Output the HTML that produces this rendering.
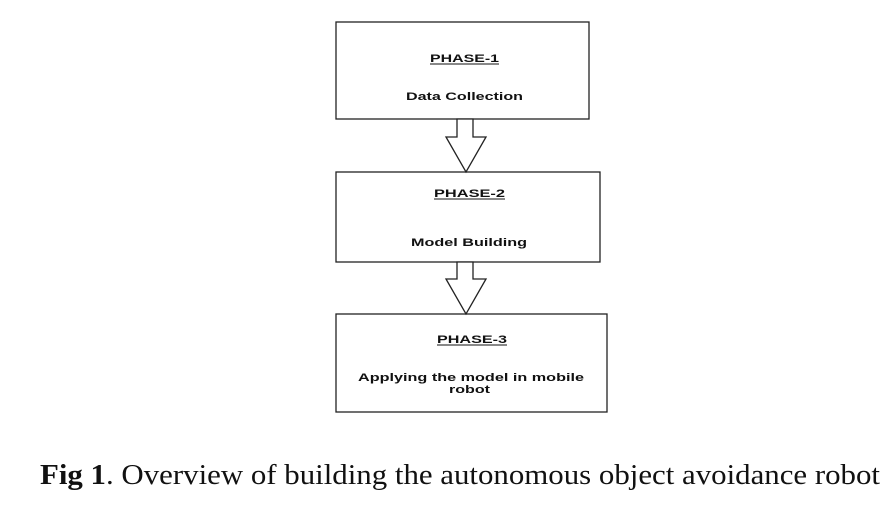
<!DOCTYPE html>
<html><head><meta charset="utf-8"><style>
html,body{margin:0;padding:0;background:#fff;width:888px;height:512px;overflow:hidden}
svg{display:block}
.l{font-family:"Liberation Sans",Arial,sans-serif;font-weight:bold;font-size:11px;fill:#111}
.c{font-family:"Liberation Serif","Times New Roman",serif;font-size:29px;fill:#111}
</style></head><body>
<svg width="888" height="512" viewBox="0 0 888 512">
<g fill="#fff" stroke="#222" stroke-width="1.3">
<rect x="336" y="22" width="253" height="97"/>
<rect x="336" y="172" width="264" height="90"/>
<rect x="336" y="314" width="271" height="98"/>
<polygon points="457,119 473,119 473,137 486,137 466,172 446,137 457,137"/>
<polygon points="457,262 473,262 473,279 486,279 466,314 446,279 457,279"/>
</g>
<g class="l">
<text x="430" y="62" textLength="69" lengthAdjust="spacingAndGlyphs">PHASE-1</text>
<line x1="430" y1="64" x2="499" y2="64" stroke="#111" stroke-width="1"/>
<text x="406" y="100" textLength="117" lengthAdjust="spacingAndGlyphs">Data Collection</text>
<text x="434" y="197" textLength="71" lengthAdjust="spacingAndGlyphs">PHASE-2</text>
<line x1="434" y1="199" x2="505" y2="199" stroke="#111" stroke-width="1"/>
<text x="411" y="246" textLength="116" lengthAdjust="spacingAndGlyphs">Model Building</text>
<text x="437" y="343" textLength="70" lengthAdjust="spacingAndGlyphs">PHASE-3</text>
<line x1="437" y1="345" x2="507" y2="345" stroke="#111" stroke-width="1"/>
<text x="358" y="381" textLength="226" lengthAdjust="spacingAndGlyphs">Applying the model in mobile</text>
<text x="449" y="393" textLength="41" lengthAdjust="spacingAndGlyphs">robot</text>
</g>
<text class="c" x="40" y="484" textLength="66" lengthAdjust="spacingAndGlyphs" font-weight="bold">Fig 1</text>
<text class="c" x="106" y="484" textLength="774" lengthAdjust="spacingAndGlyphs">. Overview of building the autonomous object avoidance robot</text>
</svg>
</body></html>
